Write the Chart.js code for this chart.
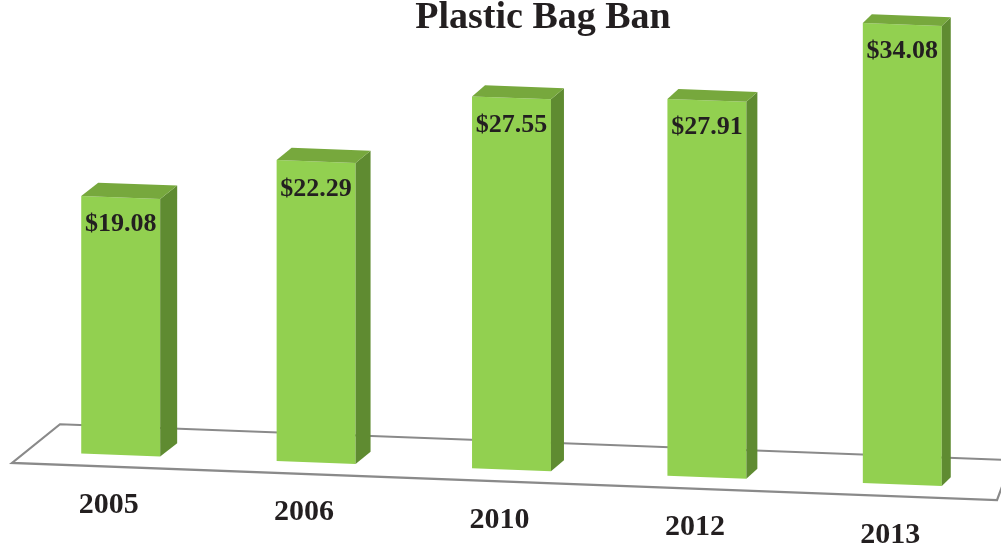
<!DOCTYPE html>
<html>
<head>
<meta charset="utf-8">
<script src="https://cdn.jsdelivr.net/npm/chart.js@4/dist/chart.umd.min.js"></script>
<style>
  html, body { margin: 0; padding: 0; background: #ffffff; }
  #wrap { width: 1001px; height: 547px; position: relative; }
</style>
</head>
<body>
<div id="wrap"><canvas id="c"></canvas></div>
<script>
const categories = ['2005', '2006', '2010', '2012', '2013'];
const values = [19.08, 22.29, 27.55, 27.91, 34.08];
const valueLabels = ['$19.08', '$22.29', '$27.55', '$27.91', '$34.08'];
const chartTitle = 'Plastic Bag Ban';

const SHEAR = 0.0377;      // perspective slope of the floor
const PIVOT_X = 902;       // x where shear is zero
const FRONT = '#92d050', SIDE = '#5f8b31', TOP = '#77a83d';
const LINE = '#8a8a8a', INK = '#231f20';
const SERIF = '"Liberation Serif", "Times New Roman", serif';

function shearY(x) { return SHEAR * (x - PIVOT_X); }

const perspective3D = {
  id: 'perspective3D',
  beforeDatasetsDraw(chart) {
    const ctx = chart.ctx, ca = chart.chartArea;
    const base = chart.scales.y.getPixelForValue(0);
    ctx.save();
    ctx.transform(1, SHEAR, 0, 1, 0, -SHEAR * PIVOT_X);
    // floor plane
    const backY = base - 28.5, frontY = base + 12;
    ctx.beginPath();
    ctx.moveTo(ca.left + 37, backY);
    ctx.lineTo(ca.right + 12, backY);
    ctx.lineTo(ca.right - 3, frontY);
    ctx.lineTo(ca.left - 11, frontY);
    ctx.closePath();
    ctx.fillStyle = '#ffffff';
    ctx.fill();
    ctx.lineWidth = 2.2;
    ctx.strokeStyle = LINE;
    ctx.stroke();
  },
  afterDatasetsDraw(chart) {
    const ctx = chart.ctx;
    const meta = chart.getDatasetMeta(0);
    meta.data.forEach((bar) => {
      const p = bar.getProps(['x', 'y', 'base', 'width'], true);
      const l = p.x - p.width / 2, r = p.x + p.width / 2;
      const t = (p.x - 120) / 782;
      const dx = 17 - 8 * t, dy = 14 - 5 * t;
      // side face
      ctx.beginPath();
      ctx.moveTo(r, p.y);
      ctx.lineTo(r + dx, p.y - dy);
      ctx.lineTo(r + dx, p.base - dy);
      ctx.lineTo(r, p.base);
      ctx.closePath();
      ctx.fillStyle = SIDE;
      ctx.fill();
      // top face
      ctx.beginPath();
      ctx.moveTo(l, p.y);
      ctx.lineTo(l + dx, p.y - dy);
      ctx.lineTo(r + dx, p.y - dy);
      ctx.lineTo(r, p.y);
      ctx.closePath();
      ctx.fillStyle = TOP;
      ctx.fill();
    });
    ctx.restore();
  },
  afterDraw(chart) {
    const ctx = chart.ctx;
    const meta = chart.getDatasetMeta(0);
    const base = chart.scales.y.getPixelForValue(0);
    ctx.save();
    ctx.fillStyle = INK;
    ctx.textAlign = 'center';
    ctx.textBaseline = 'alphabetic';
    // title
    ctx.font = 'bold 38px ' + SERIF;
    ctx.fillText(chartTitle, 543, 28);
    meta.data.forEach((bar, i) => {
      const p = bar.getProps(['x', 'y'], true);
      const sh = shearY(p.x);
      ctx.font = 'bold 26px ' + SERIF;
      ctx.fillText(valueLabels[i], p.x, p.y + sh + 34);
      ctx.font = 'bold 30px ' + SERIF;
      ctx.fillText(chart.data.labels[i], p.x - 12, base + sh + 58);
    });
    ctx.restore();
  }
};

new Chart(document.getElementById('c'), {
  type: 'bar',
  data: {
    labels: categories,
    datasets: [{
      data: values,
      backgroundColor: FRONT,
      borderWidth: 0,
      barPercentage: 0.404,
      categoryPercentage: 1.0,
      clip: false
    }]
  },
  options: {
    responsive: true,
    maintainAspectRatio: false,
    animation: false,
    layout: { padding: { left: 23, right: 1, top: 0, bottom: 62.5 } },
    scales: {
      x: { display: false },
      y: { display: false, min: 0, max: 35.89 }
    },
    plugins: {
      legend: { display: false },
      tooltip: { enabled: false },
      title: { display: false, text: chartTitle }
    }
  },
  plugins: [perspective3D]
});
</script>
</body>
</html>
